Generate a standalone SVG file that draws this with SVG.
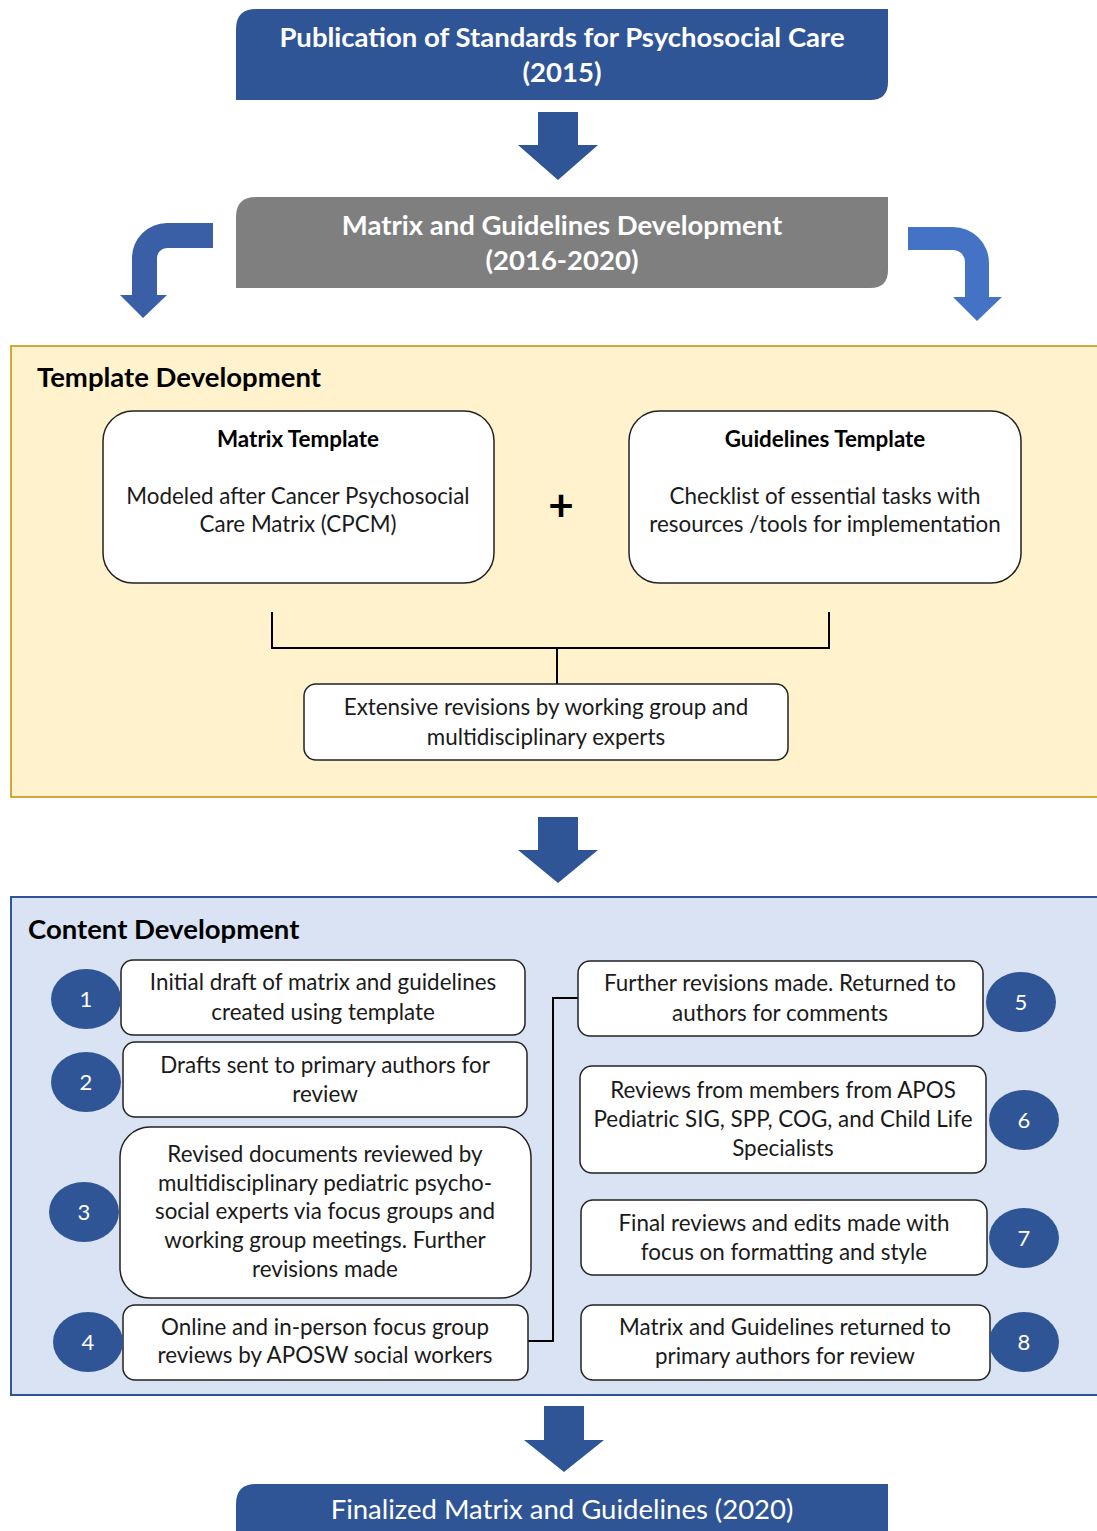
<svg xmlns="http://www.w3.org/2000/svg" width="1097" height="1531" viewBox="0 0 1097 1531">
<style>
text{font-family:Lato,"Open Sans","Liberation Sans",sans-serif;text-anchor:middle;fill:#1a1a1a}
.hd{fill:#fff;font-weight:bold;font-size:27.5px}
.sec{font-weight:bold;font-size:27.5px;text-anchor:start;fill:#000}
.t{font-size:22.4px}
.tb{font-size:22.4px;font-weight:bold;fill:#000}
.box{fill:#fff;stroke:#222;stroke-width:1.5}
.num{fill:#2F5597}
.nt{fill:#fff;font-size:22px}
.dn{fill:#2F5597}
.ln{fill:none;stroke:#000;stroke-width:2}
</style>
<rect width="1097" height="1531" fill="#fff"/>
<g id="pub">
<path d="M256,9 H888 V82 Q888,100 870,100 H236 V29 Q236,9 256,9 Z" fill="#2F5597"/>
<text class="hd" x="562" y="47">Publication of Standards for Psychosocial Care</text>
<text class="hd" x="562" y="82">(2015)</text>
</g>
<g id="dev">
<path d="M256,197 H888 V270 Q888,288 870,288 H236 V217 Q236,197 256,197 Z" fill="#7F7F7F"/>
<text class="hd" x="562" y="235">Matrix and Guidelines Development</text>
<text class="hd" x="562" y="270">(2016-2020)</text>
</g>
<g id="connectors">
<path class="dn" d="M538,112 H578 V145 H598 L558,180 L518,145 H538 Z"/>
<path d="M213,223 L167,223 A35,35 0 0 0 132,258 L132,295 L120,295 L143,318 L167,295 L157,295 L157,258 A10,10 0 0 1 167,248 L213,248 Z" fill="#3A5FA6"/>
<path d="M908,227 L953,227 A36,36 0 0 1 989,263 L989,297 L1002,297 L977,321 L953,297 L965,297 L965,262 A12,12 0 0 0 953,250 L908,250 Z" fill="#4472C4"/>
<path class="dn" d="M538,817 H578 V850 H598 L558,883 L518,850 H538 Z"/>
<path class="dn" d="M544,1406 H584 V1440 H604 L564,1472 L524,1440 H544 Z"/>
</g>
<g id="template">
<rect x="11" y="346" width="1095" height="451" fill="#FFF2CC" stroke="#BF9000" stroke-width="1.5"/>
<text class="sec" x="37" y="387">Template Development</text>
</g>
<g id="matrix">
<rect class="box" x="103" y="411" width="391" height="172" rx="30"/>
<text class="tb" x="298" y="447">Matrix Template</text>
<text class="t" x="298" y="504">Modeled after Cancer Psychosocial</text>
<text class="t" x="298" y="532">Care Matrix (CPCM)</text>
</g>
<text x="561" y="521" style="font-size:44px;font-weight:bold;fill:#000">+</text>
<g id="guidelines">
<rect class="box" x="629" y="411" width="392" height="172" rx="30"/>
<text class="tb" x="825" y="447">Guidelines Template</text>
<text class="t" x="825" y="504">Checklist of essential tasks with</text>
<text class="t" x="825" y="532">resources /tools for implementation</text>
</g>
<g id="bracket">
<path class="ln" d="M272,612 V648 H829 V612 M557,648 V684"/>
</g>
<g id="extensive">
<rect class="box" x="304" y="684" width="484" height="76" rx="12"/>
<text class="t" x="546" y="715">Extensive revisions by working group and</text>
<text class="t" x="546" y="745">multidisciplinary experts</text>
</g>
<g id="content">
<rect x="11" y="897" width="1095" height="498" fill="#DAE3F3" stroke="#2F5597" stroke-width="2"/>
<text class="sec" x="28" y="939">Content Development</text>
</g>
<g id="link4to5">
<path class="ln" d="M528,1341 H553 V998 H578"/>
</g>
<g id="step1">
<rect class="box" x="121" y="960" width="404" height="75" rx="12"/>
<text class="t" x="323" y="990">Initial draft of matrix and guidelines</text>
<text class="t" x="323" y="1020">created using template</text>
<ellipse class="num" cx="86" cy="999" rx="35" ry="30"/>
<text class="nt" x="86" y="1007">1</text>
</g>
<g id="step2">
<rect class="box" x="123" y="1042" width="404" height="75" rx="12"/>
<text class="t" x="325" y="1073">Drafts sent to primary authors for</text>
<text class="t" x="325" y="1102">review</text>
<ellipse class="num" cx="86" cy="1082" rx="35" ry="30"/>
<text class="nt" x="86" y="1090">2</text>
</g>
<g id="step3">
<rect class="box" x="120" y="1127" width="411" height="171" rx="30"/>
<text class="t" x="325" y="1162">Revised documents reviewed by</text>
<text class="t" x="325" y="1191">multidisciplinary pediatric psycho-</text>
<text class="t" x="325" y="1219">social experts via focus groups and</text>
<text class="t" x="325" y="1248">working group meetings. Further</text>
<text class="t" x="325" y="1277">revisions made</text>
<ellipse class="num" cx="84" cy="1212" rx="35" ry="30"/>
<text class="nt" x="84" y="1220">3</text>
</g>
<g id="step4">
<rect class="box" x="123" y="1305" width="405" height="75" rx="12"/>
<text class="t" x="325" y="1335">Online and in-person focus group</text>
<text class="t" x="325" y="1363">reviews by APOSW social workers</text>
<ellipse class="num" cx="88" cy="1342" rx="35" ry="30"/>
<text class="nt" x="88" y="1350">4</text>
</g>
<g id="step5">
<rect class="box" x="578" y="961" width="405" height="75" rx="12"/>
<text class="t" x="780" y="991">Further revisions made. Returned to</text>
<text class="t" x="780" y="1021">authors for comments</text>
<ellipse class="num" cx="1021" cy="1002" rx="35" ry="30"/>
<text class="nt" x="1021" y="1010">5</text>
</g>
<g id="step6">
<rect class="box" x="580" y="1066" width="406" height="107" rx="12"/>
<text class="t" x="783" y="1098">Reviews from members from APOS</text>
<text class="t" x="783" y="1127">Pediatric SIG, SPP, COG, and Child Life</text>
<text class="t" x="783" y="1156">Specialists</text>
<ellipse class="num" cx="1024" cy="1120" rx="35" ry="30"/>
<text class="nt" x="1024" y="1128">6</text>
</g>
<g id="step7">
<rect class="box" x="581" y="1200" width="406" height="75" rx="12"/>
<text class="t" x="784" y="1231">Final reviews and edits made with</text>
<text class="t" x="784" y="1260">focus on formatting and style</text>
<ellipse class="num" cx="1024" cy="1238" rx="35" ry="30"/>
<text class="nt" x="1024" y="1246">7</text>
</g>
<g id="step8">
<rect class="box" x="581" y="1305" width="409" height="75" rx="12"/>
<text class="t" x="785" y="1335">Matrix and Guidelines returned to</text>
<text class="t" x="785" y="1364">primary authors for review</text>
<ellipse class="num" cx="1024" cy="1342" rx="35" ry="30"/>
<text class="nt" x="1024" y="1350">8</text>
</g>
<g id="final">
<path d="M256,1484 H888 V1531 H236 V1504 Q236,1484 256,1484 Z" fill="#2F5597"/>
<text class="hd" x="562" y="1519" style="font-weight:normal">Finalized Matrix and Guidelines (2020)</text>
</g>
</svg>
